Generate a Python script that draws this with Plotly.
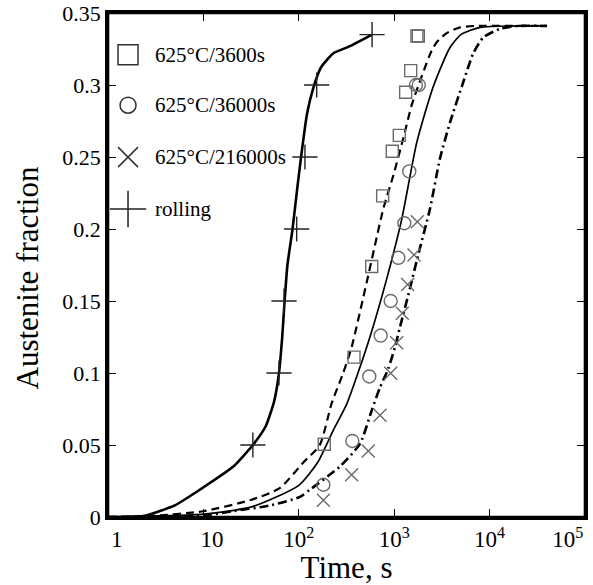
import plotly.graph_objects as go

# ---- model curves (time in s, austenite fraction) ----
rolling_t = [1, 2, 2.5, 5, 9.2, 20.6, 33, 45, 55, 62, 67, 71, 76, 86, 97, 108, 122, 142, 170, 230, 344, 586]
rolling_f = [0, 0, 0.001, 0.008, 0.019, 0.035, 0.05, 0.063, 0.08, 0.1, 0.125, 0.15, 0.175, 0.2,
             0.23, 0.255, 0.28, 0.298, 0.312, 0.322, 0.327, 0.335]

t3600_t = [1, 3.2, 10, 32, 63, 112, 166, 221, 292, 358, 515, 769, 977, 1245, 1525, 1941, 2472,
           2818, 3548, 4900, 7080, 40000]
t3600_f = [0, 0.001, 0.004, 0.012, 0.02, 0.038, 0.05, 0.079, 0.1, 0.118, 0.163, 0.214, 0.237,
           0.263, 0.286, 0.306, 0.324, 0.33, 0.336, 0.34, 0.341, 0.341]

t36000_t = [1, 10, 32, 100, 158, 229, 316, 417, 575, 832, 1202, 1722, 2570, 3846, 5012, 7943, 40000]
t36000_f = [0, 0.002, 0.007, 0.022, 0.038, 0.06, 0.078, 0.1, 0.128, 0.165, 0.207, 0.26, 0.299,
            0.326, 0.335, 0.34, 0.341]

t216000_t = [1, 10, 20, 50, 103, 131, 269, 439, 581, 710, 867, 1019, 1151, 1466, 1722, 2371,
             3020, 3846, 5297, 6745, 8590, 12850, 20000, 40000]
t216000_f = [0, 0.001, 0.004, 0.008, 0.014, 0.019, 0.035, 0.051, 0.074, 0.09, 0.103, 0.118,
             0.132, 0.159, 0.178, 0.214, 0.249, 0.274, 0.302, 0.322, 0.333, 0.339, 0.341, 0.341]

# ---- measured points ----
sq_t = [185, 379, 581, 757, 955, 1131, 1318, 1489, 1730, 1790]
sq_f = [0.0505, 0.111, 0.174, 0.223, 0.254, 0.265, 0.295, 0.310, 0.334, 0.334]

ci_t = [181, 364, 548, 722, 919, 1104, 1277, 1439, 1690, 1810]
ci_f = [0.0224, 0.0528, 0.0976, 0.126, 0.15, 0.18, 0.204, 0.240, 0.300, 0.300]

xx_t = [181, 358, 535, 710, 919, 1062, 1216, 1383, 1613, 1747]
xx_f = [0.0116, 0.0293, 0.0459, 0.0707, 0.0999, 0.121, 0.1415, 0.1615, 0.182, 0.205]

pl_t = [33, 62, 70, 95, 116, 154, 586]
pl_f = [0.05, 0.1, 0.15, 0.2, 0.25, 0.3, 0.335]

legend_labels = ["625\u00b0C/3600s", "625\u00b0C/36000s", "625\u00b0C/216000s", "rolling"]

NB = "\u00a0"
x_tickvals = [1, 10, 100, 1000, 10000, 100000]
x_ticktext = [NB * 3 + "1", NB * 3 + "10", "10<sup>2</sup>", "10<sup>3</sup>", "10<sup>4</sup>",
              "10<sup>5</sup>" + NB * 6]
y_tickvals = [0, 0.05, 0.1, 0.15, 0.2, 0.25, 0.3, 0.35]
y_ticktext = ["0", "0.05", "0.1", "0.15", "0.2", "0.25", "0.3", "0.35"]

X_RANGE = [0, 5]        # log10 of 1 s .. 1e5 s
Y_RANGE = [0, 0.35]

FONT = "Liberation Serif"
GREY = "#6a6a6a"

fig = go.Figure()

fig.add_trace(go.Scatter(x=rolling_t, y=rolling_f, mode="lines",
                         line=dict(color="black", width=2.6, shape="spline", smoothing=0.5)))
fig.add_trace(go.Scatter(x=t3600_t, y=t3600_f, mode="lines",
                         line=dict(color="black", width=2.2, dash="8px,5px", shape="spline", smoothing=0.6)))
fig.add_trace(go.Scatter(x=t36000_t, y=t36000_f, mode="lines",
                         line=dict(color="black", width=1.7, shape="spline", smoothing=0.6)))
fig.add_trace(go.Scatter(x=t216000_t, y=t216000_f, mode="lines",
                         line=dict(color="black", width=2.6, dash="9px,4px,2px,4px", shape="spline", smoothing=0.6)))

fig.add_trace(go.Scatter(x=sq_t, y=sq_f, mode="markers",
                         marker=dict(symbol="square-open", size=12, color=GREY, line=dict(width=1.4))))
fig.add_trace(go.Scatter(x=ci_t, y=ci_f, mode="markers",
                         marker=dict(symbol="circle-open", size=13, color=GREY, line=dict(width=1.4))))
fig.add_trace(go.Scatter(x=xx_t, y=xx_f, mode="markers",
                         marker=dict(symbol="x-thin", size=13, color=GREY, line=dict(width=1.4, color=GREY))))
fig.add_trace(go.Scatter(x=pl_t, y=pl_f, mode="markers",
                         marker=dict(symbol="cross-thin", size=18, color="#222", line=dict(width=1.4, color="#222"))))

# hand-drawn key in the upper-left corner, on an overlay axis spanning [0, 1]
key_y = [0.917, 0.817, 0.714, 0.611]
key_sym = ["square-open", "circle-open", "x-thin", "cross-thin"]
key_size = [20, 16, 20, 26]
key_col = ["#333", "#333", "#333", "#222"]
for yk, sym, sz, col in zip(key_y, key_sym, key_size, key_col):
    fig.add_trace(go.Scatter(x=[0.042], y=[yk], mode="markers", xaxis="x2", yaxis="y2",
                             marker=dict(symbol=sym, size=sz, color=col, line=dict(width=1.5, color=col))))
for yk, lab in zip(key_y, legend_labels):
    fig.add_annotation(x=0.094, y=yk, xref="x2", yref="y2", text=lab, showarrow=False,
                       xanchor="left", yanchor="middle", font=dict(family=FONT, size=21, color="black"))

# y-axis title placed a little below the plot's mid-height
fig.add_annotation(x=-0.168, y=0.475, xref="paper", yref="paper", text="Austenite fraction",
                   textangle=-90, showarrow=False, xanchor="center", yanchor="middle",
                   font=dict(family=FONT, size=31, color="black"))

# closed frame around the plotting area
fig.add_shape(type="rect", xref="paper", yref="paper", x0=0, y0=0, x1=1, y1=1,
              line=dict(color="black", width=2.6), layer="above")

axis_common = dict(showline=True, linewidth=2.6, linecolor="black", mirror="ticks",
                   ticks="inside", ticklen=8, tickwidth=1.2, tickcolor="black",
                   showgrid=False, zeroline=False, automargin=False)

# plain axes on the top and right sides carrying inward ticks
frame_axis = dict(showline=True, linewidth=2.6, linecolor="black", ticks="inside", ticklen=8,
                  tickwidth=1.2, tickcolor="black", showgrid=False, zeroline=False,
                  showticklabels=False, automargin=False)

fig.update_layout(
    width=593, height=585,
    margin=dict(l=108, r=8, t=13, b=68, autoexpand=False),
    paper_bgcolor="white", plot_bgcolor="white",
    showlegend=False,
    font=dict(family=FONT, size=22, color="black"),
    xaxis=dict(type="log", range=X_RANGE, tickvals=x_tickvals, ticktext=x_ticktext,
               ticklabeloverflow="allow",
               tickfont=dict(family=FONT, size=23, color="black"),
               title=dict(text="Time, s", font=dict(family=FONT, size=31), standoff=0),
               **axis_common),
    yaxis=dict(range=Y_RANGE, tickvals=y_tickvals, ticktext=y_ticktext,
               tickfont=dict(family=FONT, size=22, color="black"),
               **axis_common),
    xaxis2=dict(range=[0, 1], overlaying="x", visible=False),
    yaxis2=dict(range=[0, 1], overlaying="y", visible=False),
    xaxis3=dict(type="log", range=X_RANGE, tickvals=x_tickvals, overlaying="x", side="top",
                anchor="y", **frame_axis),
    yaxis3=dict(range=Y_RANGE, tickvals=y_tickvals, overlaying="y", side="right",
                anchor="x", **frame_axis),
)

fig.write_html("out.html")
